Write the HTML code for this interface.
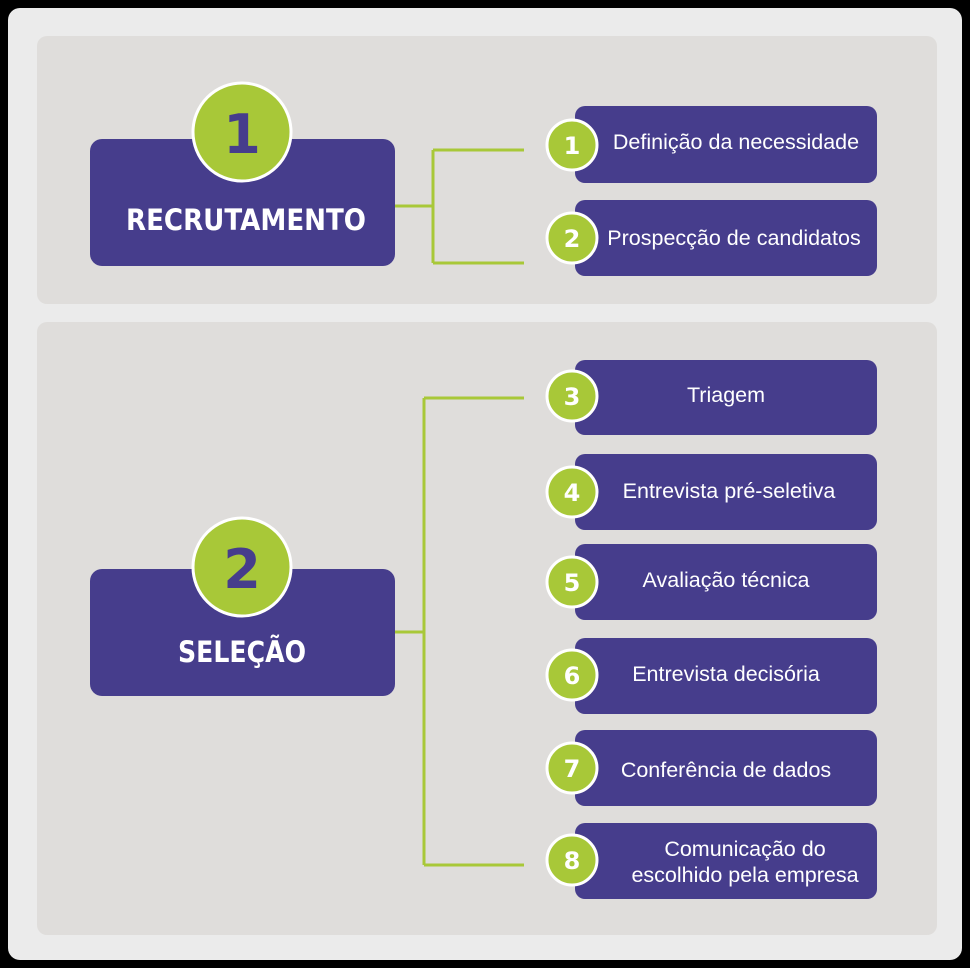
<!DOCTYPE html>
<html><head><meta charset="utf-8"><style>html,body{margin:0;padding:0;background:#000}svg{display:block}</style></head>
<body>
<svg width="970" height="968" viewBox="0 0 970 968" xmlns="http://www.w3.org/2000/svg">
<rect x="0" y="0" width="970" height="968" fill="#000"/>
<rect x="8" y="8" width="954" height="952" rx="12" fill="#ebebeb"/>
<rect x="37" y="36" width="900" height="268" rx="10" fill="#dfdddb"/>
<rect x="37" y="322" width="900" height="613" rx="10" fill="#dfdddb"/>
<g stroke="#a8c838" stroke-width="3" fill="none">
<path d="M395 206 H433 M433 150 V263 M433 150 H524 M433 263 H524"/>
<path d="M395 632 H424 M424 398 V865 M424 398 H524 M424 865 H524"/>
</g>
<g fill="#463d8c">
<rect x="90" y="139" width="305" height="127" rx="12"/>
<rect x="90" y="569" width="305" height="127" rx="12"/>
<rect x="575" y="106" width="302" height="77" rx="10"/>
<rect x="575" y="200" width="302" height="76" rx="10"/>
<rect x="575" y="360" width="302" height="75" rx="10"/>
<rect x="575" y="454" width="302" height="76" rx="10"/>
<rect x="575" y="544" width="302" height="76" rx="10"/>
<rect x="575" y="638" width="302" height="76" rx="10"/>
<rect x="575" y="730" width="302" height="76" rx="10"/>
<rect x="575" y="823" width="302" height="76" rx="10"/>
</g>
<g fill="#a8c838" stroke="#fff" stroke-width="3">
<circle cx="242" cy="132" r="49"/>
<circle cx="242" cy="567" r="49"/>
<circle cx="572" cy="145" r="25"/>
<circle cx="572" cy="238" r="25"/>
<circle cx="572" cy="396" r="25"/>
<circle cx="572" cy="492" r="25"/>
<circle cx="572" cy="582" r="25"/>
<circle cx="572" cy="675" r="25"/>
<circle cx="572" cy="768" r="25"/>
<circle cx="572" cy="860" r="25"/>
</g>
<g font-family="'DejaVu Sans', 'Liberation Sans', sans-serif" font-weight="bold" text-anchor="middle">
<text x="242" y="153" font-size="54" fill="#463d8c">1</text>
<text x="242" y="588" font-size="54" fill="#463d8c">2</text>
<text x="246" y="230" font-size="29" fill="#fff" textLength="240" lengthAdjust="spacingAndGlyphs">RECRUTAMENTO</text>
<text x="242" y="662" font-size="29" fill="#fff" textLength="128" lengthAdjust="spacingAndGlyphs">SELEÇÃO</text>
<g font-size="24" fill="#fff">
<text x="572" y="154">1</text>
<text x="572" y="247">2</text>
<text x="572" y="405">3</text>
<text x="572" y="501">4</text>
<text x="572" y="591">5</text>
<text x="572" y="684">6</text>
<text x="572" y="777">7</text>
<text x="572" y="869">8</text>
</g>
</g>
<g font-family="'Liberation Sans', Arial, sans-serif" font-size="21.5" fill="#fff" text-anchor="middle">
<text x="736" y="149">Definição da necessidade</text>
<text x="734" y="245">Prospecção de candidatos</text>
<text x="726" y="402">Triagem</text>
<text x="729" y="498">Entrevista pré-seletiva</text>
<text x="726" y="587">Avaliação técnica</text>
<text x="726" y="681">Entrevista decisória</text>
<text x="726" y="777">Conferência de dados</text>
<text x="745" y="856">Comunicação do</text>
<text x="745" y="882">escolhido pela empresa</text>
</g>
</svg>
</body></html>
